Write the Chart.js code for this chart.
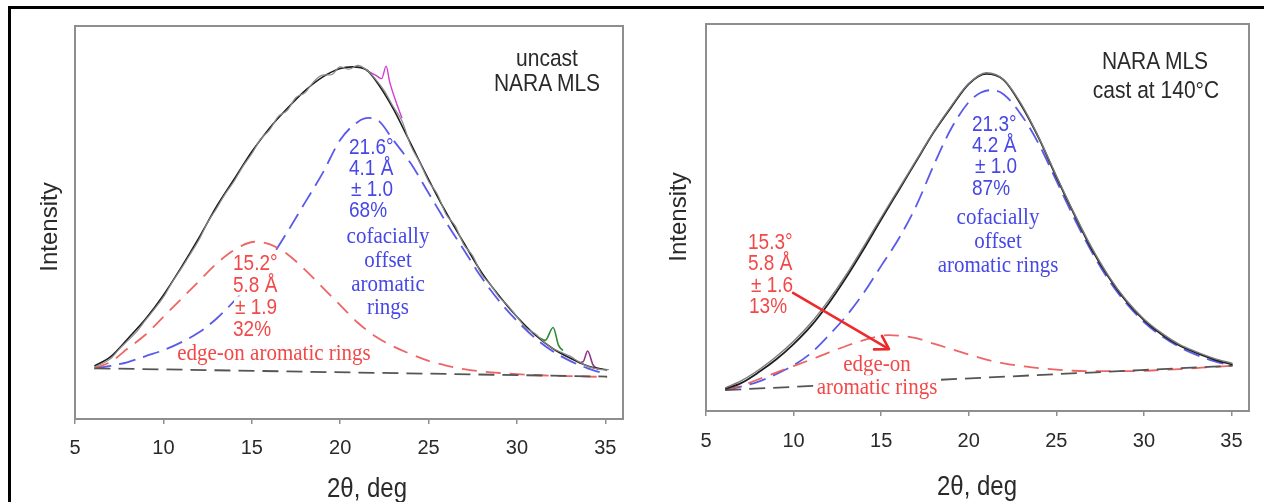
<!DOCTYPE html>
<html><head><meta charset="utf-8">
<script src="https://cdn.jsdelivr.net/npm/chart.js@4.4.1/dist/chart.umd.min.js"></script>
<style>
html,body{margin:0;padding:0;background:#fff;}
#wrap{position:relative;width:1264px;height:502px;overflow:hidden;}
canvas{position:absolute;top:0;}
#c1{left:0;} #c2{left:640px;}
.frame{position:absolute;left:8px;top:6px;width:1280px;height:520px;border-top:3px solid #000;border-left:3px solid #000;}
.t{position:absolute;white-space:nowrap;transform:translate(-50%,-50%) scale(1,1.12);line-height:1;z-index:5;}
.l{transform:translate(0,-50%) scale(1,1.12);transform-origin:left center;}
.bg{background:#fff;padding:0 1px;}
.sans{font-family:"Liberation Sans",Arial,sans-serif;}
.serif{font-family:"Liberation Serif","Times New Roman",serif;}
.dark{color:#2a2a2a;font-size:21px;}
.blue{color:#4747e8;} .red{color:#f24848;}
.num{font-size:19px;}
.word{font-size:21px;}
.ax{color:#2a2a2a;font-size:24px;}
.rot{transform:translate(-50%,-50%) rotate(-90deg);}
</style></head>
<body>
<div id="wrap">
<canvas id="c1" width="640" height="502"></canvas>
<canvas id="c2" width="624" height="502"></canvas>
<div class="frame"></div>

<!-- left panel text -->
<div class="t sans dark" style="left:547px;top:58px;">uncast</div>
<div class="t sans dark" style="left:547px;top:83px;">NARA MLS</div>
<div class="t l sans blue num" style="left:349px;top:147px;">21.6°</div>
<div class="t l sans blue num" style="left:349px;top:168px;">4.1 Å</div>
<div class="t l sans blue num" style="left:351px;top:189px;">± 1.0</div>
<div class="t l sans blue num" style="left:349px;top:210px;">68%</div>
<div class="t serif blue word" style="left:388px;top:236px;">cofacially</div>
<div class="t serif blue word" style="left:388px;top:260px;">offset</div>
<div class="t serif blue word" style="left:388px;top:284px;">aromatic</div>
<div class="t serif blue word" style="left:388px;top:307px;">rings</div>
<div class="t l sans red num bg" style="left:232px;top:263px;">15.2°</div>
<div class="t l sans red num bg" style="left:232px;top:285px;">5.8 Å</div>
<div class="t l sans red num bg" style="left:234px;top:307px;">± 1.9</div>
<div class="t l sans red num bg" style="left:232px;top:329px;">32%</div>
<div class="t serif red word" style="left:274px;top:353px;">edge-on aromatic rings</div>
<div class="t sans ax rot" style="left:49px;top:227px;">Intensity</div>
<div class="t sans ax" style="left:367px;top:488px;">2θ, deg</div>

<!-- right panel text -->
<div class="t sans dark" style="left:1155px;top:61px;">NARA MLS</div>
<div class="t sans dark" style="left:1156px;top:90px;">cast at 140°C</div>
<div class="t l sans blue num" style="left:972px;top:124px;">21.3°</div>
<div class="t l sans blue num" style="left:972px;top:145px;">4.2 Å</div>
<div class="t l sans blue num" style="left:975px;top:166px;">± 1.0</div>
<div class="t l sans blue num" style="left:972px;top:188px;">87%</div>
<div class="t serif blue word" style="left:998px;top:217px;">cofacially</div>
<div class="t serif blue word" style="left:998px;top:241px;">offset</div>
<div class="t serif blue word" style="left:998px;top:265px;">aromatic rings</div>
<div class="t l sans red num" style="left:748px;top:242px;">15.3°</div>
<div class="t l sans red num" style="left:748px;top:263px;">5.8 Å</div>
<div class="t l sans red num" style="left:751px;top:285px;">± 1.6</div>
<div class="t l sans red num" style="left:749px;top:306px;">13%</div>
<div class="t serif red word bg" style="left:877px;top:364px;">edge-on</div>
<div class="t serif red word bg" style="left:877px;top:387px;">aromatic rings</div>
<div class="t sans ax rot" style="left:678px;top:217px;">Intensity</div>
<div class="t sans ax" style="left:977px;top:486px;">2θ, deg</div>
</div>

<script>
// ---------- shared ----------
const xTicks = [5, 10, 15, 20, 25, 30, 35];

// ---------- left panel: uncast NARA MLS ----------
const L_x      = [6.1,7,8,9,10,11,12,13,14,15,16,17,18,19,20,20.7,21.5,22,23,24,25,26,27,28,29,30,31,32,33,34,35.1];
const L_total  = [13.5,15.8,20.5,25.5,31.5,38.5,46,54,61,68,74,79,83.5,87,89.2,89.6,88.8,86.2,79,70,61,52.5,44.8,37.3,31.3,26,21.5,18,15.5,13.5,12.5];
const L_blue_x = [6.1,7,8,9,10,11,12,13,14,15,16,17,18,19,20,21,21.6,22.2,23,24,25,26,27,28,29,30,31,32,33,34,35.1];
const L_blue   = [12.9,13.5,14.5,16,17.5,19.5,22,25.5,30,35,40.5,47.5,55,62.5,71,75.6,76.6,75.8,71,65,57.5,50,43,36,30,25,20.7,17.3,14.8,12.9,11.4];
const L_red_x  = [6.1,7,8,9,10,11,12,13,14,15.2,16,17,18,19,20,21,22,23,24,25,26,27,28,29,30,31,32,33,34,35.1];
const L_red    = [12.9,14.5,18,21.5,26,30.5,35,39.5,43,45.1,44.5,42,38,33.5,29,24.5,21,18.5,16.5,14.8,13.6,12.7,12.1,11.7,11.4,11.2,11.0,10.9,10.8,10.7];
const L_base_x = [6.1, 35.1];
const L_base   = [12.9, 10.8];
const L_raw_x = [6.1,7,7.5,8,8.5,9,9.5,10,10.5,11,11.5,12,12.5,13,13.5,14,14.5,15,15.5,16,16.5,17,17.5,18,18.5,19,19.5,20,20.5,21,21.5,22,22.5,23,23.5,24,24.5,25,25.5,26,26.5,27,27.5,28,28.5,29,29.5,30,30.5,31,31.5,32,32.5,33,33.5,34,34.5,35,35.2];
const L_raw   = [13.2,15.3,17.8,20.0,22.3,25.2,28.0,31.0,34.8,38.2,41.8,45.5,50.0,53.5,57.3,60.5,64.3,67.5,71.2,73.5,77.0,78.5,81.8,83.0,85.8,87.5,87.6,89.6,89.0,90.0,88.8,86.5,83.5,79.5,75.8,69.5,65.3,60.5,57.2,52.0,49.2,44.3,41.5,36.8,34.2,31.0,28.8,26.0,23.2,21.8,19.8,18.0,17.0,16.0,14.6,13.4,12.8,12.5,12.6];
const L_pink_x   = [21.5,22.0,22.35,22.6,22.8,23.1,23.5];
const L_pink     = [88.6,87.5,86.6,89.8,85.8,81.5,76.5];
const L_green_x  = [31.3,31.6,32.05,32.35,32.6];
const L_green    = [20.6,20.0,23.3,18.8,17.4];
const L_purple_x = [33.5,33.75,34.0,34.3,34.6];
const L_purple   = [14.3,14.6,17.3,13.8,12.6];

// ---------- right panel: NARA MLS cast at 140 °C ----------
const R_x      = [6.1,7,8,9,10,11,12,13,14,15,16,17,18,19,20,21,22,23,24,25,26,27,28,29,30,31,32,33,34,35.06];
const R_total  = [5.7,7.2,10,13.3,17.3,22,27.8,34.5,41.8,49.5,57,64.5,72,78.5,84.5,87.1,85.5,79,70.5,60.5,51,42,34.5,28.3,23.5,19.8,17,15,13.3,12];
const R_raw    = [6.0,7.8,10.6,14.0,18.0,22.8,28.6,35.2,42.5,50.0,57.4,64.8,72.2,78.8,84.6,87.4,85.6,79.3,70.7,60.8,51.3,42.4,34.8,28.6,23.8,20.2,17.3,15.3,13.6,12.3];
const R_blue_x = [6.1,7,8,9,10,11,12,13,14,15,16,17,18,19,20,20.7,21.3,22,23,24,25,26,27,28,29,30,31,32,33,34,35.06];
const R_blue   = [5.4,6.3,7.6,9.5,11.8,15,19.5,24.5,30.5,37.5,44.5,53,63.5,73,79.8,82.3,82.9,81.8,76.5,69,59.5,50,41.3,33.8,27.8,23,19.4,16.6,14.5,12.9,11.7];
const R_red_x  = [6.1,7,8,9,10,11,12,13,14,15.4,16,17,18,19,20,21,22,23,24,25,26,27,28,29,30,31,32,33,34,35.06];
const R_red    = [5.4,6.5,8.2,9.9,11.6,13.3,15.1,16.8,18.3,19.6,19.5,18.8,17.4,16,14.6,13.3,12.3,11.6,11.1,10.7,10.4,10.3,10.3,10.3,10.4,10.6,10.8,11.1,11.4,11.7];
const R_base_x = [6.1, 35.06];
const R_base   = [5.4, 11.7];
const R_arrow_x = [9.97, 15.45];
const R_arrow_y = [30.5, 16.0];

// ---------- helpers ----------
function pts(xs, ys){ return xs.map((x,i)=>({x:x, y:ys[i]})); }
function ds(xs, ys, color, width, dash){
  return {type:'line', data:pts(xs,ys), borderColor:color, borderWidth:width, borderDash:dash||[],
          pointRadius:0, fill:false, cubicInterpolationMode:'monotone', tension:0.4};
}
const BLUE = 'rgba(72,72,232,0.9)';
const RED  = 'rgba(236,84,84,0.9)';
const GREYDASH = '#555';
const BOXC = '#8e8e8e';

const boxPlugin = {
  id:'box',
  afterDraw(chart){
    const {ctx, chartArea:a} = chart;
    ctx.save(); ctx.strokeStyle = BOXC; ctx.lineWidth = 2;
    ctx.strokeRect(a.left, a.top, a.right-a.left, a.bottom-a.top);
    ctx.restore();
  }
};
const arrowPlugin = {
  id:'arrow',
  afterDatasetsDraw(chart){
    if(!chart.options.plugins.arrow || !chart.options.plugins.arrow.show) return;
    const {ctx, scales:{x, y}} = chart;
    const x0 = x.getPixelForValue(R_arrow_x[0]), y0 = y.getPixelForValue(R_arrow_y[0]);
    const x1 = x.getPixelForValue(R_arrow_x[1]), y1 = y.getPixelForValue(R_arrow_y[1]);
    const ang = Math.atan2(y1-y0, x1-x0), h = 15;
    ctx.save(); ctx.strokeStyle = '#ee2a2a'; ctx.fillStyle = '#ee2a2a'; ctx.lineWidth = 2.6; ctx.lineCap='round'; ctx.lineJoin='round';
    ctx.beginPath(); ctx.moveTo(x0,y0); ctx.lineTo(x1 - 3*Math.cos(ang), y1 - 3*Math.sin(ang)); ctx.stroke();
    ctx.beginPath();
    ctx.moveTo(x1 - h*Math.cos(ang-0.55), y1 - h*Math.sin(ang-0.55));
    ctx.lineTo(x1, y1);
    ctx.lineTo(x1 - h*Math.cos(ang+0.55), y1 - h*Math.sin(ang+0.55));
    ctx.stroke();
    ctx.restore();
  }
};

function makeChart(id, datasets, geo, showArrow){
  return new Chart(document.getElementById(id), {
    type:'line',
    data:{datasets:datasets},
    plugins:[boxPlugin, arrowPlugin],
    options:{
      responsive:false, animation:false, devicePixelRatio:1,
      layout:{padding:{left:0, top:geo.top, right:geo.right, bottom:0}},
      plugins:{legend:{display:false}, tooltip:{enabled:false}, arrow:{show:showArrow}},
      scales:{
        x:{type:'linear', min:5, max:36,
           afterBuildTicks:s=>{ s.ticks = xTicks.map(v=>({value:v})); },
           afterFit:s=>{ s.height = geo.xh; },
           ticks:{font:{family:'Liberation Sans', size:20}, color:'#2a2a2a', padding:geo.tp, autoSkip:false, maxRotation:0},
           grid:{display:true, drawOnChartArea:false, drawTicks:true, tickLength:5, color:BOXC, lineWidth:1.5},
           border:{display:true, color:BOXC, width:2}},
        y:{type:'linear', min:0, max:100,
           afterFit:s=>{ s.width = geo.yw; },
           ticks:{display:false}, grid:{display:false},
           border:{display:true, color:BOXC, width:2}}
      }
    }
  });
}

makeChart('c1', [
  ds(L_raw_x, L_raw, '#8a8a8a', 1.2),
  ds(L_x, L_total, '#1e1e1e', 1.6),
  ds(L_base_x, L_base, GREYDASH, 1.8, [16,8]),
  ds(L_red_x, L_red, RED, 1.8, [15,9]),
  ds(L_blue_x, L_blue, BLUE, 1.8, [17,8]),
  ds(L_pink_x, L_pink, '#d23cd2', 1.4),
  ds(L_green_x, L_green, '#2f8a2f', 1.6),
  ds(L_purple_x, L_purple, '#8a3a8a', 1.6)
], {top:26, right:17, xh:83, yw:75, tp:12}, false);

makeChart('c2', [
  ds(R_x, R_raw, '#7a7a7a', 1.4),
  ds(R_x, R_total, '#1e1e1e', 1.8),
  ds(R_base_x, R_base, GREYDASH, 1.8, [16,8]),
  ds(R_red_x, R_red, RED, 1.8, [15,9]),
  ds(R_blue_x, R_blue, BLUE, 1.8, [17,8])
], {top:24, right:15, xh:91, yw:66, tp:13}, true);
</script>
</body></html>
